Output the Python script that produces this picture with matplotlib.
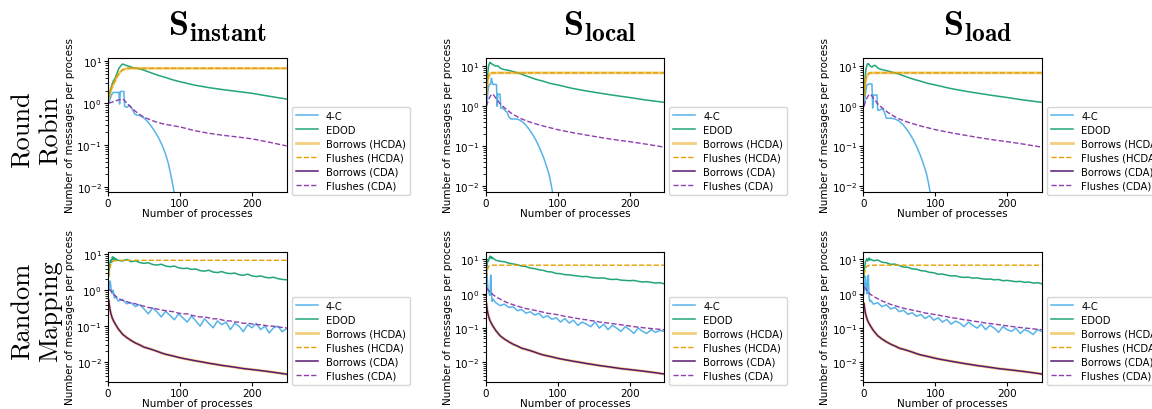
import matplotlib
matplotlib.use("Agg")
import matplotlib.pyplot as plt

# ---- data ----
col_titles = [r"$\mathbf{S_{instant}}$", r"$\mathbf{S_{local}}$", r"$\mathbf{S_{load}}$"]
row_titles = ["Round\nRobin", "Random\nMapping"]
labels = ["4-C", "EDOD", "Borrows (HCDA)", "Flushes (HCDA)", "Borrows (CDA)", "Flushes (CDA)"]

# round robin, instant
tl_4c_x = [1, 3, 5, 7, 9, 11, 13, 15, 16, 17, 19, 21, 22, 23, 25, 27, 29, 31, 33, 35, 37, 40, 45, 50,
           55, 60, 65, 70, 75, 80, 84, 87, 90, 92]
tl_4c = [1.0, 1.3, 1.6, 1.8, 1.8, 1.8, 1.8, 1.8, 0.95, 1.9, 1.9, 1.9, 1.9, 0.85, 0.8, 0.8, 0.9, 0.85,
         0.75, 0.65, 0.55, 0.52, 0.5, 0.44, 0.36, 0.28, 0.21, 0.15, 0.1, 0.06, 0.035, 0.02, 0.011, 0.007]
tl_edod_x = [1, 3, 5, 7, 10, 13, 15, 17, 19, 20, 22, 25, 30, 35, 40, 45, 50, 60, 70, 80, 90, 100, 120,
             140, 160, 180, 200, 220, 248]
tl_edod = [1.4, 2.0, 2.6, 3.3, 4.0, 5.5, 6.8, 7.5, 8.3, 8.6, 8.4, 8.0, 7.5, 7.0, 6.8, 6.5, 6.1, 5.3,
           4.6, 4.1, 3.6, 3.25, 2.7, 2.35, 2.1, 1.9, 1.72, 1.5, 1.25]
tl_hcda_x = [1, 3, 5, 8, 10, 12, 15, 18, 20, 23, 26, 30, 248]
tl_hcda = [1.3, 1.8, 2.3, 3.0, 3.5, 4.2, 5.0, 5.8, 6.2, 6.5, 6.7, 6.8, 6.8]
tl_cda_x = [1, 5, 10, 15, 20, 22, 25, 30, 35, 40, 45, 50, 60, 70, 80, 100, 120, 140, 160, 180, 200,
            220, 248]
tl_cda = [1.0, 1.05, 1.12, 1.2, 1.25, 1.2, 1.05, 0.85, 0.7, 0.6, 0.52, 0.46, 0.39, 0.34, 0.31, 0.27,
          0.22, 0.19, 0.17, 0.155, 0.14, 0.12, 0.095]

# round robin, local / load
rr_4c_x = [1, 2, 3, 4, 5, 6, 7, 8, 9, 10, 11, 12, 13, 14, 15, 16, 17, 18, 19, 20, 21, 23, 25, 28, 30,
           32, 35, 40, 45, 50, 55, 60, 65, 70, 75, 80, 85, 88, 91, 93]
tm_4c = [1.0, 1.5, 2.2, 3.0, 3.5, 3.5, 3.6, 5.0, 4.0, 3.5, 3.5, 3.5, 3.5, 3.5, 3.5, 1.0, 2.0, 2.0, 2.0,
         2.0, 0.9, 0.9, 0.85, 0.75, 0.7, 0.55, 0.48, 0.48, 0.47, 0.42, 0.35, 0.27, 0.2, 0.14, 0.09,
         0.055, 0.03, 0.02, 0.011, 0.007]
tr_4c = [1.0, 1.4, 2.0, 2.8, 3.4, 3.5, 3.5, 3.6, 3.6, 3.6, 3.6, 3.6, 0.9, 1.9, 1.9, 1.9, 1.9, 1.9, 1.9,
         0.8, 0.8, 0.8, 0.85, 0.8, 0.65, 0.5, 0.5, 0.5, 0.47, 0.42, 0.35, 0.27, 0.2, 0.14, 0.09, 0.055,
         0.03, 0.02, 0.011, 0.007]
rr_edod_x = [1, 2, 3, 4, 5, 6, 7, 8, 10, 12, 14, 16, 18, 20, 23, 26, 30, 35, 40, 45, 50, 60, 70, 80,
             90, 100, 120, 140, 160, 180, 200, 220, 248]
tm_edod = [2.0, 4.0, 7.0, 10.0, 11.5, 12.5, 12.0, 11.5, 11.0, 10.5, 10.0, 10.2, 9.8, 9.0, 8.5, 8.2,
           8.0, 7.6, 7.2, 6.8, 6.3, 5.4, 4.7, 4.2, 3.7, 3.4, 2.8, 2.4, 2.1, 1.85, 1.65, 1.45, 1.25]
tr_edod = [1.8, 3.5, 6.5, 9.0, 10.5, 11.5, 11.5, 11.0, 10.0, 9.5, 10.2, 10.5, 10.0, 9.0, 8.5, 8.2,
           7.9, 7.5, 7.1, 6.7, 6.3, 5.4, 4.7, 4.2, 3.7, 3.4, 2.8, 2.4, 2.1, 1.85, 1.65, 1.45, 1.25]
rr_hcda_x = [1, 2, 3, 4, 5, 6, 8, 10, 15, 248]
tm_hcda = [2.0, 3.2, 4.5, 5.5, 6.0, 6.4, 6.7, 6.8, 6.8, 6.8]
tr_hcda = [1.8, 3.0, 4.2, 5.2, 5.8, 6.2, 6.6, 6.8, 6.8, 6.8]
rr_cda_x = [1, 3, 5, 7, 9, 10, 12, 15, 20, 25, 30, 35, 40, 45, 50, 60, 70, 80, 100, 120, 140, 160,
            180, 200, 220, 248]
tm_cda = [1.0, 1.3, 1.6, 1.85, 2.0, 2.0, 1.8, 1.5, 1.15, 0.95, 0.8, 0.68, 0.6, 0.53, 0.48, 0.41,
          0.36, 0.32, 0.26, 0.22, 0.19, 0.165, 0.145, 0.13, 0.115, 0.095]
tr_cda = [1.0, 1.3, 1.6, 1.85, 1.95, 2.0, 1.8, 1.5, 1.15, 0.95, 0.8, 0.68, 0.6, 0.53, 0.48, 0.41,
          0.36, 0.32, 0.26, 0.22, 0.19, 0.165, 0.145, 0.13, 0.115, 0.095]

# random mapping (all three strategies)
rm_x = [1, 2, 3, 4, 5, 6, 7, 8, 9, 10, 14, 20, 26, 32, 38, 44, 50, 56, 62, 68, 74, 80, 86, 92, 98,
        104, 110, 116, 122, 128, 134, 140, 146, 152, 158, 164, 170, 176, 182, 188, 194, 200, 206,
        212, 218, 224, 230, 236, 242, 248]
bl_4c = [1.0, 1.5, 1.8, 1.2, 0.9, 0.8, 1.0, 0.75, 0.6, 0.7,
         0.5, 0.55, 0.42, 0.45, 0.35, 0.4, 0.3, 0.22, 0.32, 0.25,
         0.18, 0.26, 0.2, 0.15, 0.22, 0.17, 0.13, 0.19, 0.14, 0.1,
         0.16, 0.12, 0.09, 0.14, 0.11, 0.13, 0.08, 0.12, 0.1, 0.07,
         0.11, 0.09, 0.12, 0.08, 0.1, 0.065, 0.09, 0.1, 0.07, 0.085]
bm_4c = [1.0, 3.5, 1.5, 1.2, 1.0, 0.9, 3.5, 1.0, 0.6, 0.7,
         0.55, 0.45, 0.5, 0.4, 0.42, 0.32, 0.35, 0.27, 0.3, 0.24,
         0.27, 0.2, 0.23, 0.18, 0.2, 0.15, 0.19, 0.14, 0.17, 0.12,
         0.15, 0.13, 0.11, 0.15, 0.1, 0.13, 0.09, 0.12, 0.1, 0.08,
         0.11, 0.09, 0.07, 0.1, 0.08, 0.07, 0.09, 0.075, 0.085, 0.08]
br_4c = [1.0, 2.0, 3.2, 1.5, 1.0, 2.5, 3.5, 0.8, 0.6, 0.65,
         0.5, 0.55, 0.42, 0.48, 0.36, 0.4, 0.3, 0.33, 0.25, 0.28,
         0.22, 0.25, 0.19, 0.23, 0.17, 0.2, 0.15, 0.18, 0.13, 0.16,
         0.14, 0.11, 0.15, 0.12, 0.1, 0.13, 0.09, 0.12, 0.1, 0.075,
         0.11, 0.09, 0.08, 0.1, 0.07, 0.09, 0.08, 0.065, 0.09, 0.08]
bl_edod = [2.5, 4.5, 6.5, 7.0, 6.0, 8.5, 7.2, 8.3, 7.0, 7.6,
           6.8, 6.5, 7.2, 6.2, 6.6, 5.9, 5.6, 5.8, 5.2, 5.0,
           5.3, 4.7, 4.5, 4.7, 4.2, 4.0, 4.1, 3.8, 3.9, 3.5,
           3.4, 3.6, 3.2, 3.1, 3.3, 3.0, 2.9, 3.0, 2.7, 2.6,
           2.8, 2.5, 2.4, 2.5, 2.3, 2.2, 2.3, 2.1, 2.0, 1.95]
bm_edod = [3.5, 7.0, 10.0, 9.0, 11.0, 12.5, 11.0, 12.0, 10.5, 11.0,
           9.5, 8.8, 8.6, 7.8, 7.4, 7.0, 6.4, 6.2, 5.6, 5.4,
           5.0, 4.8, 4.4, 4.3, 3.9, 3.85, 3.6, 3.55, 3.4, 3.3,
           3.15, 3.2, 3.0, 2.9, 2.85, 2.9, 2.7, 2.6, 2.65, 2.5,
           2.45, 2.4, 2.45, 2.3, 2.2, 2.25, 2.15, 2.05, 2.1, 1.95]
br_edod = [3.0, 6.0, 8.5, 9.5, 10.5, 9.0, 10.0, 11.0, 9.5, 10.2,
           9.2, 9.6, 8.3, 8.0, 7.2, 7.3, 6.6, 6.0, 5.9, 5.3,
           5.2, 4.7, 4.6, 4.2, 4.1, 3.7, 3.75, 3.5, 3.3, 3.35,
           3.1, 3.0, 3.05, 2.85, 2.9, 2.75, 2.65, 2.7, 2.55, 2.6,
           2.4, 2.45, 2.35, 2.25, 2.3, 2.15, 2.2, 2.05, 2.1, 1.95]
bl_fcda = [1.0, 1.05, 1.0, 0.95, 0.9, 0.85, 0.8, 0.78, 0.72, 0.7,
           0.6, 0.52, 0.48, 0.44, 0.42, 0.38, 0.36, 0.33, 0.32, 0.3,
           0.28, 0.27, 0.26, 0.25, 0.23, 0.22, 0.22, 0.2, 0.19, 0.18,
           0.18, 0.17, 0.16, 0.16, 0.15, 0.14, 0.14, 0.13, 0.13, 0.12,
           0.12, 0.115, 0.11, 0.11, 0.105, 0.1, 0.1, 0.095, 0.092, 0.09]
bm_fcda = [1.5, 1.4, 1.3, 1.25, 1.2, 1.15, 1.1, 1.05, 1.0, 0.95,
           0.82, 0.7, 0.6, 0.53, 0.48, 0.44, 0.4, 0.37, 0.35, 0.33,
           0.31, 0.29, 0.27, 0.26, 0.25, 0.235, 0.22, 0.21, 0.2, 0.19,
           0.18, 0.175, 0.165, 0.16, 0.15, 0.145, 0.14, 0.135, 0.13, 0.125,
           0.12, 0.115, 0.11, 0.107, 0.103, 0.1, 0.097, 0.094, 0.092, 0.09]
br_fcda = [1.6, 1.5, 1.4, 1.3, 1.25, 1.2, 1.12, 1.06, 1.0, 0.96,
           0.84, 0.72, 0.62, 0.55, 0.49, 0.45, 0.41, 0.38, 0.355, 0.335,
           0.315, 0.295, 0.275, 0.265, 0.25, 0.24, 0.225, 0.215, 0.2, 0.195,
           0.185, 0.175, 0.17, 0.16, 0.155, 0.148, 0.14, 0.136, 0.13, 0.126,
           0.12, 0.116, 0.112, 0.107, 0.104, 0.1, 0.098, 0.095, 0.092, 0.09]
rm_borrows = [0.52, 0.35, 0.27, 0.22, 0.19, 0.165, 0.15, 0.135, 0.125, 0.115,
              0.085, 0.06, 0.048, 0.04, 0.034, 0.03, 0.026, 0.024, 0.022, 0.02,
              0.018, 0.0165, 0.0155, 0.0145, 0.0135, 0.0127, 0.012, 0.0114, 0.0108, 0.0103,
              0.0098, 0.0093, 0.0089, 0.0085, 0.0081, 0.0078, 0.0075, 0.0072, 0.0069, 0.0066,
              0.0064, 0.0062, 0.006, 0.0058, 0.0056, 0.0054, 0.0052, 0.005, 0.0048, 0.0046]
rm_fhcda_x = [1, 2, 3, 4, 5, 6, 8, 10, 15, 20, 248]
bl_fhcda = [2.5, 3.5, 4.5, 5.5, 6.0, 6.3, 6.5, 6.6, 6.7, 6.8, 6.8]
bm_fhcda = [3.0, 4.5, 5.5, 6.2, 6.5, 6.6, 6.7, 6.8, 6.8, 6.8, 6.8]
br_fhcda = [3.5, 4.5, 5.5, 6.0, 6.3, 6.5, 6.7, 6.8, 6.8, 6.8, 6.8]

c_4c, c_edod, c_hcda, c_bcda, c_fcda = "#56B4E9", "#22A677", "#E69F00", "#5A1A70", "#8E3FAE"

panels = [
    # (4c_x, 4c, edod_x, edod, bhcda_x, bhcda, fhcda_x, fhcda, bcda_x, bcda, fcda_x, fcda, ylim)
    [(tl_4c_x, tl_4c, tl_edod_x, tl_edod, tl_hcda_x, tl_hcda, tl_hcda_x, tl_hcda, [], [], tl_cda_x, tl_cda, (0.0075, 12)),
     (rr_4c_x, tm_4c, rr_edod_x, tm_edod, rr_hcda_x, tm_hcda, rr_hcda_x, tm_hcda, [], [], rr_cda_x, tm_cda, (0.0072, 16)),
     (rr_4c_x, tr_4c, rr_edod_x, tr_edod, rr_hcda_x, tr_hcda, rr_hcda_x, tr_hcda, [], [], rr_cda_x, tr_cda, (0.0072, 16))],
    [(rm_x, bl_4c, rm_x, bl_edod, rm_x, rm_borrows, rm_fhcda_x, bl_fhcda, rm_x, rm_borrows, rm_x, bl_fcda, (0.0028, 11.6)),
     (rm_x, bm_4c, rm_x, bm_edod, rm_x, rm_borrows, rm_fhcda_x, bm_fhcda, rm_x, rm_borrows, rm_x, bm_fcda, (0.0027, 16.5)),
     (rm_x, br_4c, rm_x, br_edod, rm_x, rm_borrows, rm_fhcda_x, br_fhcda, rm_x, rm_borrows, rm_x, br_fcda, (0.0027, 16.5))],
]

fig = plt.figure(figsize=(11.52, 4.10), dpi=100)
lefts = [0.0938, 0.4216, 0.7494]
rows = [(0.5293, 0.3268), (0.0660, 0.3170)]

for r, row in enumerate(panels):
    for c, p in enumerate(row):
        ax = fig.add_axes([lefts[c], rows[r][0], 0.1549, rows[r][1]])
        x4, y4, xe, ye, xbh, ybh, xfh, yfh, xbc, ybc, xfc, yfc, ylim = p
        ax.plot(x4, y4, color=c_4c, lw=1.1, label=labels[0])
        ax.plot(xe, ye, color=c_edod, lw=1.1, label=labels[1])
        ax.plot(xbh, ybh, color=c_hcda, lw=2.0, alpha=0.5, label=labels[2])
        ax.plot(xfh, yfh, color=c_hcda, lw=1.0, ls="--", label=labels[3])
        ax.plot(xbc, ybc, color=c_bcda, lw=1.1, label=labels[4])
        ax.plot(xfc, yfc, color=c_fcda, lw=1.0, ls="--", label=labels[5])
        ax.set_yscale("log")
        ax.set_xlim(0, 248)
        ax.set_ylim(*ylim)
        ax.set_xticks([0, 100, 200])
        ax.tick_params(labelsize=7.5, length=3, pad=1.5)
        ax.set_xlabel("Number of processes", fontsize=7.5, labelpad=0)
        ax.set_ylabel("Number of messages per process", fontsize=7.5, labelpad=1)
        ax.legend(loc="lower left", bbox_to_anchor=(1.03, -0.02), borderaxespad=0,
                  fontsize=7.2, handlelength=2.2, labelspacing=0.4)

for c, t in enumerate(col_titles):
    fig.text([0.189, 0.521, 0.849][c], 0.935, t, fontsize=26, ha="center", va="center",
             math_fontfamily="cm")
for r, t in enumerate(row_titles):
    fig.text(0.032, [0.683, 0.241][r], t, fontsize=19, rotation=90, ha="center", va="center",
             family="cmr10", multialignment="center")

fig.savefig("out.png", dpi=100)
